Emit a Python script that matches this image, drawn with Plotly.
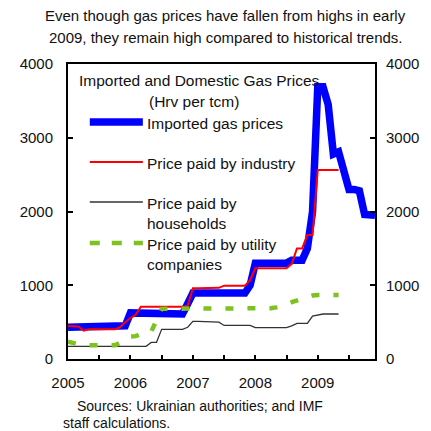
import plotly.graph_objects as go

# ---- data (monthly, Jan 2005 .. Dec 2009) ----
month_index = list(range(60))
year_ticks = [0, 6, 12, 18, 24, 30, 36, 42, 48, 54]
year_labels = ["2005", "", "2006", "", "2007", "", "2008", "", "2009", ""]

imported = [430, 430, 430, 430, 430, 430, 430, 430, 430, 430, 430, 450,
            625, 625, 625, 625, 625, 625, 625, 625, 625, 625, 610, 750,
            895, 895, 895, 895, 895, 895, 895, 895, 895, 895, 895, 1000,
            1300, 1300, 1300, 1300, 1300, 1300, 1300, 1340, 1340, 1340, 1500, 2000,
            3690, 3690, 3450, 2780, 2810, 2550, 2300, 2300, 2280, 1960, 1950, 1950]

industry = [447, 447, 440, 384, 402, 402, 402, 402, 402, 405, 430, 500,
            555, 600, 709, 709, 709, 709, 709, 709, 709, 709, 709, 720,
            958, 958, 958, 958, 958, 965, 994, 994, 994, 994, 994, 1070,
            1230, 1230, 1230, 1230, 1230, 1230, 1230, 1290, 1500, 1500, 1681, 1681,
            2563, 2563, 2563, 2563, 2563, None, None, None, None, None, None, None]

households = [170, 170, 170, 170, 170, 170, 170, 170, 170, 170, 170, 170,
              170, 170, 170, 172, 225, 225, 402, 402, 402, 402, 402, 430,
              510, 510, 510, 510, 510, 500, 455, 455, 455, 455, 455, 455,
              425, 425, 425, 425, 425, 425, 425, 450, 484, 484, 484, 583,
              600, 610, 610, 610, 610, None, None, None, None, None, None, None]

utility = [235, 225, 200, 185, 185, 185, 185, 185, 185, 185, 220, 280,
           303, 310, 340, 370, 370, 540, 680, 682, 682, 682, 682, 682,
           682, 682, 682, 682, 682, 682, 682, 682, 682, 682, 682, 682,
           682, 682, 682, 688, 700, 718, 740, 770, 795, 820, 845, 860,
           868, 868, 868, 868, 868, None, None, None, None, None, None, None]

y_ticks = [0, 1000, 2000, 3000, 4000]

BLUE = "#0000FF"
RED = "#FF0000"
BLACK = "#333333"
GREEN = "#7DC21E"
FONT = "Liberation Sans, Arial, sans-serif"
TXT = "#111111"

fig = go.Figure()
fig.add_trace(go.Scatter(x=month_index, y=imported, mode="lines",
                         line=dict(color=BLUE, width=7.5), name="Imported gas prices"))
fig.add_trace(go.Scatter(x=month_index, y=industry, mode="lines",
                         line=dict(color=RED, width=2), name="Price paid by industry"))
fig.add_trace(go.Scatter(x=month_index, y=households, mode="lines",
                         line=dict(color=BLACK, width=1.3), name="Price paid by households"))
fig.add_trace(go.Scatter(x=month_index, y=utility, mode="lines", yaxis="y2",
                         line=dict(color=GREEN, width=4.5, dash="8px,14px"),
                         name="Price paid by utility companies"))

# page offset (body margin) and plot area in page pixels
OFF = 8
L, R, T, B = 60, 384, 64, 359
W, H = 431 - OFF, 431 - OFF


def px(x):
    return (x - L) / (R - L)


def py(y):
    return (B - y) / (B - T)


shapes = []
annotations = []

LEG = 15.5
# legend (drawn inside the plot area)
annotations.append(dict(x=px(70), y=py(80), xref="paper", yref="paper", xanchor="left",
                        yanchor="middle", showarrow=False,
                        text="Imported and Domestic Gas Prices",
                        font=dict(family=FONT, size=LEG, color=TXT)))
annotations.append(dict(x=px(193), y=py(101), xref="paper", yref="paper", xanchor="center",
                        yanchor="middle", showarrow=False, text="(Hrv per tcm)",
                        font=dict(family=FONT, size=LEG, color=TXT)))

legend_items = [
    (122, "Imported gas prices", dict(color=BLUE, width=7.5)),
    (162, "Price paid by industry", dict(color=RED, width=2)),
    (202, "Price paid by<br>households", dict(color=BLACK, width=1.3)),
    (243, "Price paid by utility<br>companies", dict(color=GREEN, width=4.5, dash="10px,12px")),
]
for ypix, label, ln in legend_items:
    shapes.append(dict(type="line", xref="paper", yref="paper",
                       x0=px(83), x1=px(139), y0=py(ypix), y1=py(ypix), line=ln))
    annotations.append(dict(x=px(141), y=py(ypix - 9), xref="paper", yref="paper",
                            xanchor="left", yanchor="top", align="left", showarrow=False,
                            text=label, font=dict(family=FONT, size=LEG, color=TXT)))

# title
annotations.append(dict(x=px(226), y=py(16), xref="paper", yref="paper",
                        xanchor="center", yanchor="middle", showarrow=False,
                        text="Even though gas prices have fallen from highs in early",
                        font=dict(family=FONT, size=15, color=TXT)))
annotations.append(dict(x=px(227), y=py(37), xref="paper", yref="paper",
                        xanchor="center", yanchor="middle", showarrow=False,
                        text="2009, they remain high compared to historical trends.",
                        font=dict(family=FONT, size=15, color=TXT)))
# sources
annotations.append(dict(x=px(67), y=py(406), xref="paper", yref="paper",
                        xanchor="left", yanchor="middle", showarrow=False,
                        text="Sources: Ukrainian authorities; and IMF",
                        font=dict(family=FONT, size=14, color=TXT)))
annotations.append(dict(x=px(53), y=py(423), xref="paper", yref="paper",
                        xanchor="left", yanchor="middle", showarrow=False,
                        text="staff calculations.",
                        font=dict(family=FONT, size=14, color=TXT)))

axis_common = dict(showgrid=False, zeroline=False, showline=True, linecolor="black",
                   linewidth=2, ticks="inside", tickcolor="black",
                   tickfont=dict(family=FONT, size=15, color=TXT))

fig.update_layout(
    width=W, height=H,
    margin=dict(l=L - OFF, r=W - (R - OFF), t=T - OFF, b=H - (B - OFF), pad=0),
    paper_bgcolor="white", plot_bgcolor="white",
    showlegend=False,
    xaxis=dict(range=[0, 59], tickvals=year_ticks, ticktext=year_labels,
               ticklen=4, tickwidth=1.5, mirror=True, ticklabelstandoff=9,
               **axis_common),
    yaxis=dict(range=[0, 4000], tickvals=y_ticks, ticklen=5, tickwidth=1.5,
               mirror=True, ticklabelstandoff=10, **axis_common),
    yaxis2=dict(range=[0, 4000], tickvals=y_ticks, ticklen=5, tickwidth=1.5,
                overlaying="y", side="right", ticklabelstandoff=6, **axis_common),
    shapes=shapes,
    annotations=annotations,
)

fig.write_html("out.html")
